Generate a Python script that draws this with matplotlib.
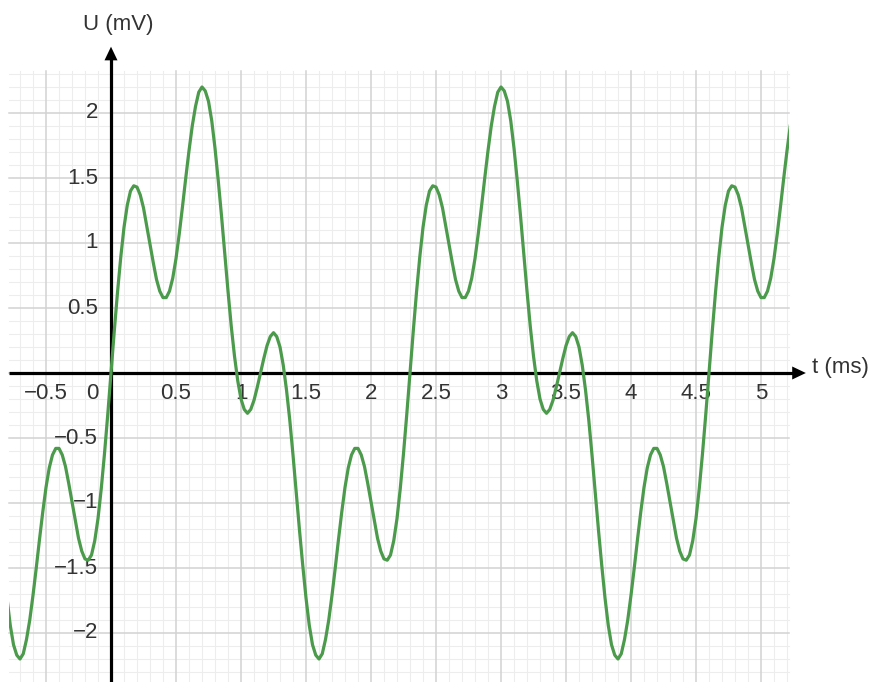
import numpy as np
import matplotlib
matplotlib.use("Agg")
import matplotlib.pyplot as plt
from matplotlib.patches import Rectangle

plt.rcParams["font.family"] = ["Liberation Sans", "DejaVu Sans"]

# signal, one sample every 0.025 ms from t = -0.8 ms
T_START, T_STEP = -0.8, 0.025
U_MV = [
    # -0.800 .. -0.025
    -1.73, -1.94, -2.09, -2.17, -2.20, -2.16, -2.05, -1.90, -1.71, -1.50,
    -1.28, -1.07, -0.88, -0.73, -0.63, -0.58, -0.58, -0.63, -0.72, -0.85,
    -0.99, -1.13, -1.27, -1.37, -1.43, -1.44, -1.40, -1.29, -1.12, -0.89,
    -0.62, -0.32,
    # 0.000 .. 2.275
    0.00, 0.32, 0.62, 0.89, 1.12, 1.29, 1.40, 1.44, 1.43, 1.37,
    1.27, 1.13, 0.99, 0.85, 0.72, 0.63, 0.58, 0.58, 0.63, 0.73,
    0.88, 1.07, 1.28, 1.50, 1.71, 1.90, 2.05, 2.16, 2.20, 2.17,
    2.09, 1.94, 1.73, 1.48, 1.21, 0.92, 0.63, 0.36, 0.13, -0.06,
    -0.20, -0.28, -0.31, -0.28, -0.21, -0.11, 0.00, 0.11, 0.21, 0.28,
    0.31, 0.28, 0.20, 0.06, -0.13, -0.36, -0.63, -0.92, -1.21, -1.48,
    -1.73, -1.94, -2.09, -2.17, -2.20, -2.16, -2.05, -1.90, -1.71, -1.50,
    -1.28, -1.07, -0.88, -0.73, -0.63, -0.58, -0.58, -0.63, -0.72, -0.85,
    -0.99, -1.13, -1.27, -1.37, -1.43, -1.44, -1.40, -1.29, -1.12, -0.89,
    -0.62, -0.32,
    # 2.300 .. 4.575
    0.00, 0.32, 0.62, 0.89, 1.12, 1.29, 1.40, 1.44, 1.43, 1.37,
    1.27, 1.13, 0.99, 0.85, 0.72, 0.63, 0.58, 0.58, 0.63, 0.73,
    0.88, 1.07, 1.28, 1.50, 1.71, 1.90, 2.05, 2.16, 2.20, 2.17,
    2.09, 1.94, 1.73, 1.48, 1.21, 0.92, 0.63, 0.36, 0.13, -0.06,
    -0.20, -0.28, -0.31, -0.28, -0.21, -0.11, 0.00, 0.11, 0.21, 0.28,
    0.31, 0.28, 0.20, 0.06, -0.13, -0.36, -0.63, -0.92, -1.21, -1.48,
    -1.73, -1.94, -2.09, -2.17, -2.20, -2.16, -2.05, -1.90, -1.71, -1.50,
    -1.28, -1.07, -0.88, -0.73, -0.63, -0.58, -0.58, -0.63, -0.72, -0.85,
    -0.99, -1.13, -1.27, -1.37, -1.43, -1.44, -1.40, -1.29, -1.12, -0.89,
    -0.62, -0.32,
    # 4.600 .. 5.225
    0.00, 0.32, 0.62, 0.89, 1.12, 1.29, 1.40, 1.44, 1.43, 1.37,
    1.27, 1.13, 0.99, 0.85, 0.72, 0.63, 0.58, 0.58, 0.63, 0.73,
    0.88, 1.07, 1.28, 1.50, 1.71, 1.90,
]
T_MS = T_START + T_STEP * np.arange(len(U_MV))

X_TICKS = [-0.5, 0, 0.5, 1, 1.5, 2, 2.5, 3, 3.5, 4, 4.5, 5]
Y_TICKS = [2, 1.5, 1, 0.5, -0.5, -1, -1.5, -2]

# grid / view box (data units, 130 px per unit both ways)
GX0, GX1, GY0, GY1 = -0.785, 5.215, -2.38, 2.32
PX = 130.0

fig = plt.figure(figsize=(8.71, 6.82), dpi=100)
ax = fig.add_axes([0, 0, 1, 1])
ax.set_xlim(-111 / PX, (871 - 111) / PX)
ax.set_ylim((373 - 682) / PX, 373 / PX)
ax.axis("off")

# minor + major grid
for v in np.arange(-7, 53) / 10:
    major = abs(v * 2 - round(v * 2)) < 1e-6
    ax.plot([v, v], [GY0, GY1], color="#d2d2d2" if major else "#ededed",
            lw=1.1 if major else 0.8, zorder=1 if major else 0)
for v in np.arange(-23, 24) / 10:
    major = abs(v * 2 - round(v * 2)) < 1e-6
    ax.plot([GX0, GX1], [v, v], color="#d2d2d2" if major else "#ededed",
            lw=1.1 if major else 0.8, zorder=1 if major else 0)

# axes with arrow heads
ax.plot([GX0, 5.25], [0, 0], color="black", lw=2.3, zorder=3, solid_capstyle="butt")
ax.plot([0, 0], [GY0, 2.42], color="black", lw=2.3, zorder=3, solid_capstyle="butt")
ax.fill([5.24, 5.345, 5.24], [0.05, 0, -0.05], color="black", zorder=3, lw=0)
ax.fill([-0.05, 0, 0.05], [2.405, 2.51, 2.405], color="black", zorder=3, lw=0)

txt = dict(fontsize=16, color="#333333", zorder=4)
for x in X_TICKS:
    xx = -0.14 if x == 0 else x
    lab = ("%g" % x).replace("-", "\u2212")
    ax.text(xx, -0.155, lab, ha="center", va="center", **txt)
for y in Y_TICKS:
    lab = ("%g" % y).replace("-", "\u2212")
    ax.text(-0.1, y, lab, ha="right", va="center", **txt)

ax.text(5.39, 0.045, "t (ms)", ha="left", va="center", **txt)
ax.text(0.055, 2.68, "U (mV)", ha="center", va="center", **txt)

line, = ax.plot(T_MS, U_MV, color="#4c9a4c", lw=2.3, zorder=5,
                solid_joinstyle="round")
clip = Rectangle((GX0, GY0), GX1 - GX0, GY1 - GY0 + 0.2, transform=ax.transData)
line.set_clip_path(clip)

fig.savefig("out.png", dpi=100)
